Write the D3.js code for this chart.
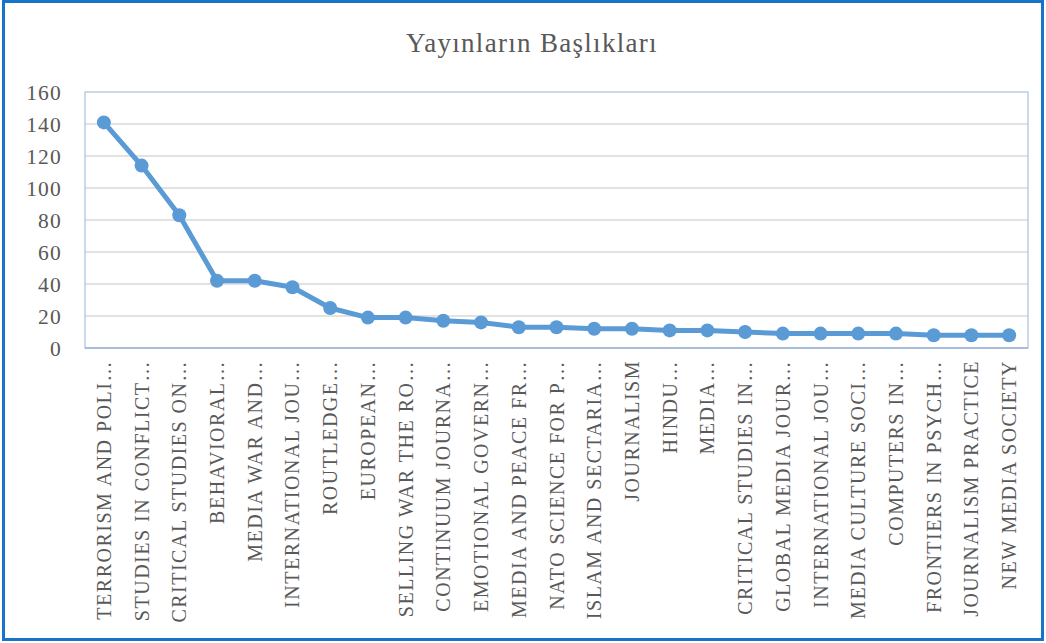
<!DOCTYPE html>
<html><head><meta charset="utf-8">
<script src="https://cdn.jsdelivr.net/npm/d3@7"></script>
<style>body{margin:0;background:#fff}svg{display:block}</style>
</head><body>
<script>
const title = "Yayınların Başlıkları";
const categories = [
 "TERRORISM AND POLI…","STUDIES IN CONFLICT…","CRITICAL STUDIES ON…","BEHAVIORAL…","MEDIA WAR AND…",
 "INTERNATIONAL JOU…","ROUTLEDGE…","EUROPEAN…","SELLING WAR THE RO…","CONTINUUM JOURNA…",
 "EMOTIONAL GOVERN…","MEDIA AND PEACE FR…","NATO SCIENCE FOR P…","ISLAM AND SECTARIA…","JOURNALISM",
 "HINDU…","MEDIA…","CRITICAL STUDIES IN…","GLOBAL MEDIA JOUR…","INTERNATIONAL JOU…",
 "MEDIA CULTURE SOCI…","COMPUTERS IN…","FRONTIERS IN PSYCH…","JOURNALISM PRACTICE","NEW MEDIA SOCIETY"];
const values = [141,114,83,42,42,38,25,19,19,17,16,13,13,12,12,11,11,10,9,9,9,9,8,8,8];
const yTicks = [0,20,40,60,80,100,120,140,160];

const W=1046,H=643;
const m={left:85,right:1028,top:92,bottom:348};
const svg=d3.select("body").append("svg").attr("width",W).attr("height",H);
const font="'Liberation Serif','DejaVu Serif',serif";

svg.append("rect").attr("x",3.5).attr("y",1.5).attr("width",W-7).attr("height",H-5)
  .attr("fill","#fff").attr("stroke","#1874C8").attr("stroke-width",3);

svg.append("text").attr("x",532).attr("y",52).attr("text-anchor","middle")
  .attr("font-family",font).attr("font-size",27).attr("letter-spacing",1.3)
  .attr("fill","#595959").text(title);

const x=d3.scaleBand().domain(d3.range(categories.length)).range([m.left,m.right]);
const y=d3.scaleLinear().domain([0,160]).range([m.bottom,m.top]);

// gridlines
svg.append("g").selectAll("line").data(yTicks.slice(1,-1)).join("line")
  .attr("x1",m.left).attr("x2",m.right).attr("y1",d=>y(d)).attr("y2",d=>y(d))
  .attr("stroke","#D9D9D9").attr("stroke-width",1.5);
// plot border
svg.append("rect").attr("x",m.left).attr("y",m.top).attr("width",m.right-m.left).attr("height",m.bottom-m.top)
  .attr("fill","none").attr("stroke","#BCCDE6").attr("stroke-width",1.5);
svg.append("line").attr("x1",m.left).attr("x2",m.right).attr("y1",m.bottom).attr("y2",m.bottom)
  .attr("stroke","#A9BCD9").attr("stroke-width",2);

// y axis labels
const yAxis=d3.axisLeft(y).tickValues(yTicks).tickSize(0).tickPadding(23);
const gy=svg.append("g").attr("transform",`translate(${m.left},0)`).call(yAxis);
gy.select(".domain").remove();
gy.selectAll("text").attr("font-family",font).attr("font-size",21.5).attr("letter-spacing",1.2)
  .attr("fill","#595959").attr("dy","0.35em");

// x labels
const xAxis=d3.axisBottom(x).tickFormat(i=>categories[i]).tickSize(0);
const gx=svg.append("g").attr("transform",`translate(0,${m.bottom})`).call(xAxis);
gx.select(".domain").remove();
gx.selectAll("text").attr("font-family",font).attr("font-size",20).attr("letter-spacing",1.5)
  .attr("fill","#595959")
  .attr("text-anchor","end").attr("transform","rotate(-90)").attr("x",-12).attr("y",0).attr("dy","0.35em");

// line
const cx=i=>x(i)+x.bandwidth()/2;
svg.append("path").datum(values).attr("fill","none").attr("stroke","#5B9BD5").attr("stroke-width",5)
  .attr("stroke-linejoin","round")
  .attr("d",d3.line().x((d,i)=>cx(i)).y(d=>y(d)));
svg.append("g").selectAll("circle").data(values).join("circle")
  .attr("cx",(d,i)=>cx(i)).attr("cy",d=>y(d)).attr("r",7).attr("fill","#5B9BD5");
</script>
</body></html>
